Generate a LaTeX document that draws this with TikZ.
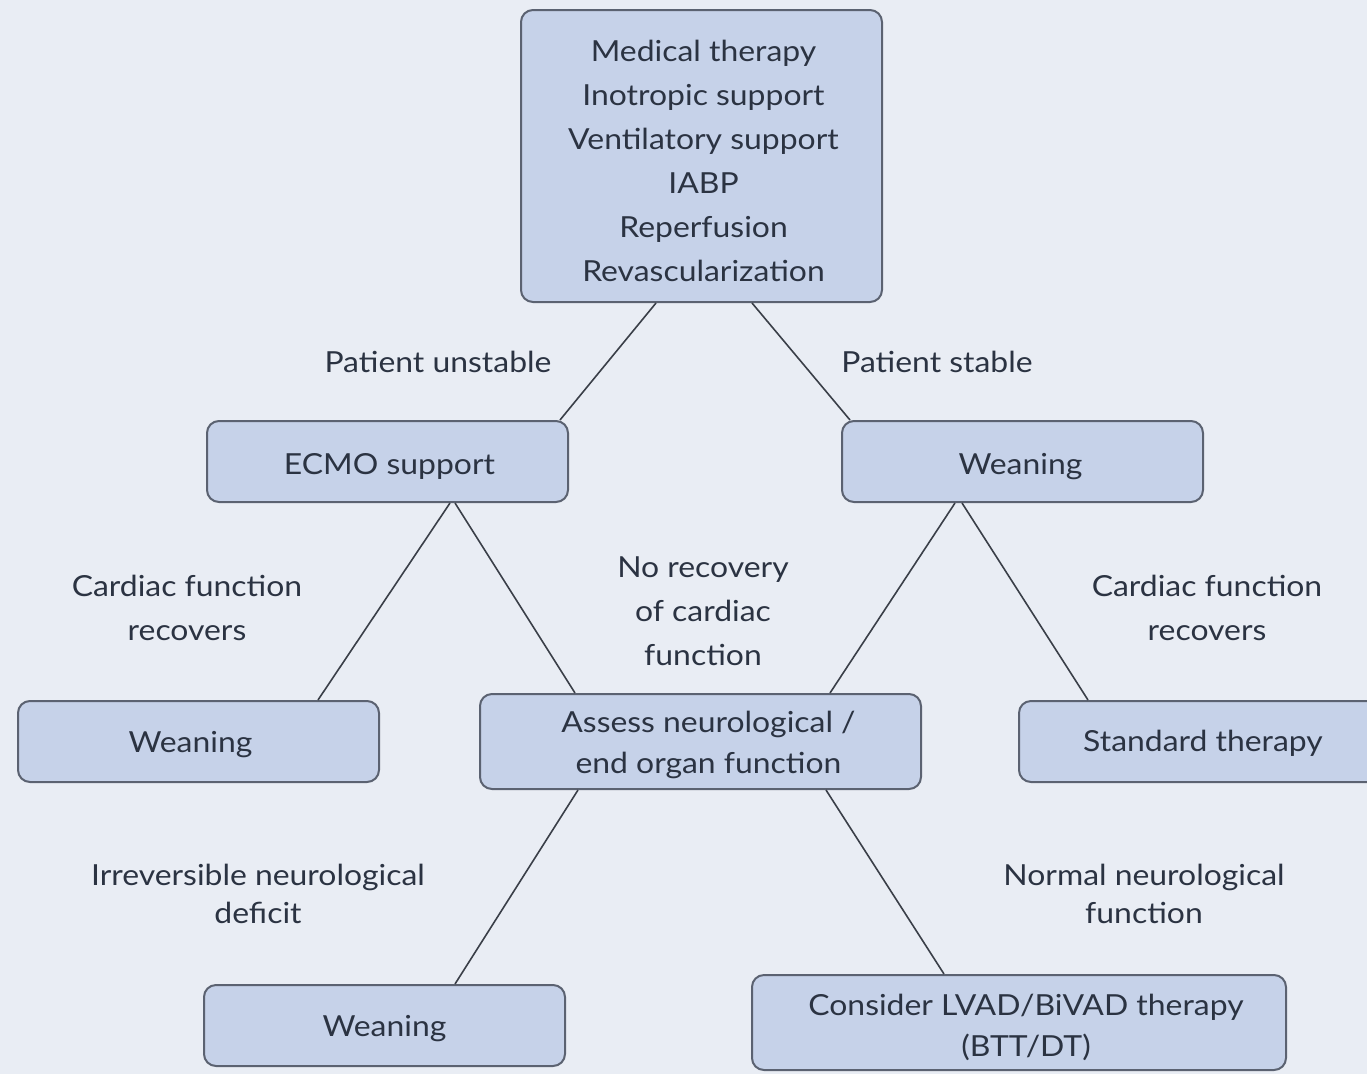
\documentclass[tikz,border=0pt]{standalone}
\usepackage{fontspec}
\setmainfont{Lato}[FakeStretch=1.1]
\usetikzlibrary{calc}
\definecolor{bgc}{HTML}{E9EDF4}
\definecolor{boxfill}{HTML}{C6D2E9}
\definecolor{boxline}{HTML}{5B6271}
\definecolor{txt}{HTML}{2B3342}
\definecolor{conn}{HTML}{3A3F48}
\tikzset{
  box/.style={draw=boxline, line width=2pt, fill=boxfill, rounded corners=12pt,
    inner sep=0pt, align=center, text=txt, font=\fontsize{29}{44}\selectfont},
  lbl/.style={align=center, text=txt, font=\fontsize{29}{44}\selectfont, inner sep=0pt},
  conn/.style={draw=conn, line width=1.6pt}
}
\begin{document}
\begin{tikzpicture}[x=1pt,y=-1pt]
\useasboundingbox[fill=bgc] (0,0) rectangle (1367,1074);
\begin{scope}
\clip (0,0) rectangle (1367,1074);
\node[box, minimum width=361pt, minimum height=292pt] (top) at (701.5,156) {};
\node[box, minimum width=361pt, minimum height=81pt] (ecmo) at (387.5,461.5) {};
\node[box, minimum width=361pt, minimum height=81pt] (wr) at (1022.5,461.5) {};
\node[box, minimum width=361pt, minimum height=81pt] (wl) at (198.5,741.5) {};
\node[box, minimum width=441pt, minimum height=95pt] (assess) at (700.5,741.5) {};
\node[box, minimum width=361pt, minimum height=81pt] (std) at (1199.5,741.5) {};
\node[box, minimum width=361pt, minimum height=81pt] (wb) at (384.5,1025.5) {};
\node[box, minimum width=534pt, minimum height=95pt] (lvad) at (1019,1022.5) {};
\end{scope}

\node[lbl] (ttop) at ($(top.center)+(2,5)$)
  {Medical therapy\\Inotropic support\\Ventilatory support\\IABP\\Reperfusion\\Revascularization};
\node[lbl] (tecmo) at ($(ecmo.center)+(2,5)$) {ECMO support};
\node[lbl] (twr) at ($(wr.center)+(-2,5)$) {Weaning};
\node[lbl] (twl) at ($(wl.center)+(-8,3)$) {Weaning};
\node[lbl, font=\fontsize{29}{41}\selectfont] (tassess) at ($(assess.center)+(8,3)$) {Assess neurological /\\end organ function};
\node[lbl] (tstd) at (1203,743) {Standard therapy};
\node[lbl] (twb) at ($(wb.center)+(0,3)$) {Weaning};
\node[lbl, font=\fontsize{29}{41}\selectfont] (tlvad) at ($(lvad.center)+(7,5)$) {Consider LVAD/BiVAD therapy\\(BTT/DT)};

\draw[conn] ($(top.south)+(-45.5,0)$) -- ($(ecmo.north)+(172.5,0)$);
\draw[conn] ($(top.south)+(50.5,0)$) -- ($(wr.north)+(-172.5,0)$);
\draw[conn] ($(ecmo.south)+(62.5,0)$) -- ($(wl.north)+(119.5,0)$);
\draw[conn] ($(ecmo.south)+(67.5,0)$) -- ($(assess.north)+(-125.5,0)$);
\draw[conn] ($(wr.south)+(-67.5,0)$) -- ($(assess.north)+(129.5,0)$);
\draw[conn] ($(wr.south)+(-60.5,0)$) -- ($(std.north)+(-111.5,0)$);
\draw[conn] ($(assess.south)+(-122.5,0)$) -- ($(wb.north)+(70.5,0)$);
\draw[conn] ($(assess.south)+(125.5,0)$) -- ($(lvad.north)+(-75,0)$);

\node[lbl] (l1) at (438,362) {Patient unstable};
\node[lbl] (l2) at (937,362) {Patient stable};
\node[lbl] (l3) at (187,608) {Cardiac function\\recovers};
\node[lbl] (l4) at (703,611) {No recovery\\of cardiac\\function};
\node[lbl] (l5) at (1207,608) {Cardiac function\\recovers};
\node[lbl, font=\fontsize{29}{38}\selectfont] (l6) at (258,894) {Irreversible neurological\\deficit};
\node[lbl, font=\fontsize{29}{38}\selectfont] (l7) at (1144,894) {Normal neurological\\function};
\end{tikzpicture}
\end{document}
